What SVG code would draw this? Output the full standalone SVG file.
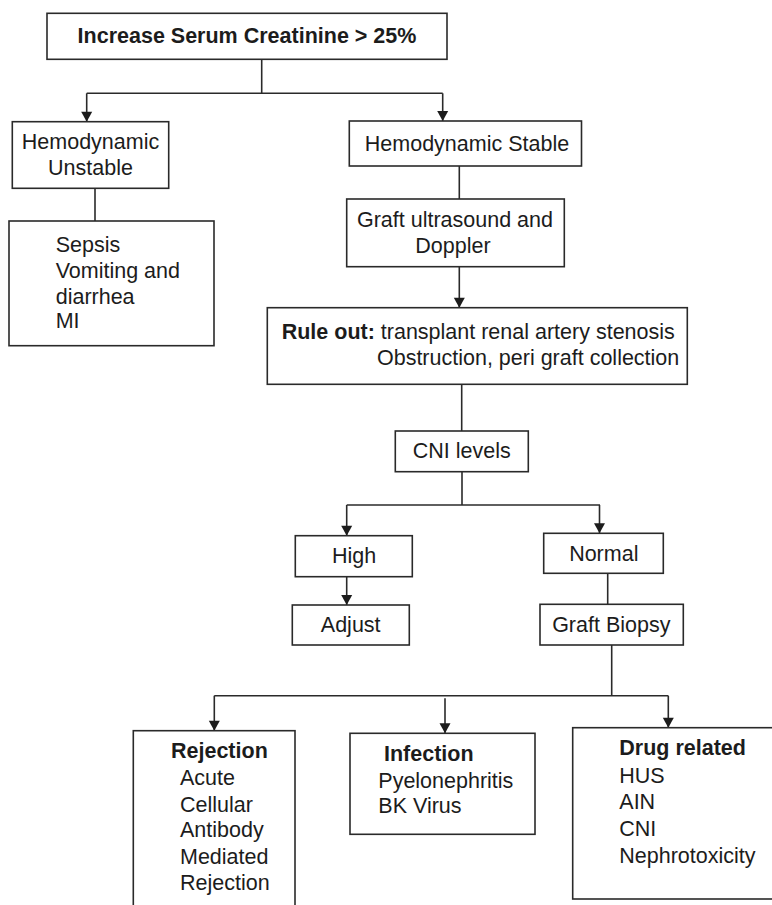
<svg xmlns="http://www.w3.org/2000/svg" width="772" height="905" viewBox="0 0 772 905">
  <style>
    .box { fill: #ffffff; stroke: #2a2a2a; stroke-width: 1.6; }
    .t { font-family: "Liberation Sans", Arial, Helvetica, sans-serif; font-size: 21.5px; fill: #1c1c1c; }
    .b { font-weight: bold; }
    .c { text-anchor: middle; }
    .e { text-anchor: end; }
    .wire { fill: none; stroke: #2a2a2a; stroke-width: 1.6; }
  </style>
  <defs>
    <marker id="arrow" markerUnits="userSpaceOnUse" markerWidth="13" markerHeight="13" viewBox="0 0 13 13" refX="11" refY="6.5" orient="auto">
      <path d="M1,1 L11,6.5 L1,12 Z" fill="#1c1c1c"/>
    </marker>
  </defs>
  <rect width="772" height="905" fill="#ffffff"/>

  <!-- connectors -->
  <g id="connectors">
    <path class="wire" d="M261.7,59.3 V93.3"/>
    <path class="wire" d="M86.7,93.3 H442.7"/>
    <path class="wire" d="M86.7,93.3 V121.7" marker-end="url(#arrow)"/>
    <path class="wire" d="M442.7,93.3 V121" marker-end="url(#arrow)"/>
    <path class="wire" d="M95,188.3 V221"/>
    <path class="wire" d="M459.3,166 V199"/>
    <path class="wire" d="M459.3,266.7 V307.7" marker-end="url(#arrow)"/>
    <path class="wire" d="M461.7,384.3 V431"/>
    <path class="wire" d="M462,471.7 V505"/>
    <path class="wire" d="M346.7,505 H600"/>
    <path class="wire" d="M346.7,505 V535.7" marker-end="url(#arrow)"/>
    <path class="wire" d="M599.5,505 V533.3" marker-end="url(#arrow)"/>
    <path class="wire" d="M346.7,576.7 V605" marker-end="url(#arrow)"/>
    <path class="wire" d="M607.7,573.3 V604.3"/>
    <path class="wire" d="M611.7,645 V695.7"/>
    <path class="wire" d="M214.3,695.7 H668.3"/>
    <path class="wire" d="M214.3,695.7 V730.7" marker-end="url(#arrow)"/>
    <path class="wire" d="M445,698.3 V733.3" marker-end="url(#arrow)"/>
    <path class="wire" d="M668.3,695.7 V727.7" marker-end="url(#arrow)"/>
  </g>

  <g id="increase-creatinine">
    <rect class="box" x="47" y="13.3" width="400" height="46"/>
    <text class="t b c" x="247" y="42.7" style="font-size:21.5px">Increase Serum Creatinine &gt; 25%</text>
  </g>

  <g id="hemodynamic-unstable">
    <rect class="box" x="12.3" y="121.7" width="156.4" height="66.6"/>
    <text class="t c" x="90.5" y="149.3">Hemodynamic</text>
    <text class="t c" x="90.5" y="175">Unstable</text>
  </g>

  <g id="hemodynamic-stable">
    <rect class="box" x="349.3" y="121" width="232.2" height="45"/>
    <text class="t c" x="467" y="150.7">Hemodynamic Stable</text>
  </g>

  <g id="unstable-causes">
    <rect class="box" x="9" y="221" width="205" height="124.7"/>
    <text class="t" x="55.7" y="252.3">Sepsis</text>
    <text class="t" x="55.7" y="278.3">Vomiting and</text>
    <text class="t" x="55.7" y="303.5">diarrhea</text>
    <text class="t" x="55.7" y="328.3">MI</text>
  </g>

  <g id="graft-ultrasound">
    <rect class="box" x="346.7" y="199" width="217.6" height="67.7"/>
    <text class="t c" x="455" y="226.7">Graft ultrasound and</text>
    <text class="t c" x="453" y="252.7">Doppler</text>
  </g>

  <g id="rule-out">
    <rect class="box" x="267.3" y="307.7" width="420" height="76.6"/>
    <text class="t" x="281.7" y="339.3"><tspan class="b">Rule out:</tspan> transplant renal artery stenosis</text>
    <text class="t e" x="679.3" y="365">Obstruction, peri graft collection</text>
  </g>

  <g id="cni-levels">
    <rect class="box" x="395.3" y="431" width="133" height="40.7"/>
    <text class="t c" x="461.7" y="458.3">CNI levels</text>
  </g>

  <g id="high">
    <rect class="box" x="295.3" y="535.7" width="117" height="41"/>
    <text class="t c" x="354" y="562.7">High</text>
  </g>

  <g id="adjust">
    <rect class="box" x="292.3" y="605" width="117" height="40"/>
    <text class="t c" x="350.7" y="631.7">Adjust</text>
  </g>

  <g id="normal">
    <rect class="box" x="543.7" y="533.3" width="119.6" height="40"/>
    <text class="t c" x="603.8" y="561">Normal</text>
  </g>

  <g id="graft-biopsy">
    <rect class="box" x="540" y="604.3" width="143.3" height="40.7"/>
    <text class="t c" x="611.3" y="631.7">Graft Biopsy</text>
  </g>

  <g id="rejection">
    <rect class="box" x="133.3" y="730.7" width="161.7" height="190"/>
    <text class="t b" x="171" y="757.7">Rejection</text>
    <text class="t" x="180" y="785">Acute</text>
    <text class="t" x="180" y="811.7">Cellular</text>
    <text class="t" x="180" y="837.3">Antibody</text>
    <text class="t" x="180" y="864">Mediated</text>
    <text class="t" x="180" y="890">Rejection</text>
  </g>

  <g id="infection">
    <rect class="box" x="350" y="733.3" width="185" height="101"/>
    <text class="t b" x="384" y="761">Infection</text>
    <text class="t" x="378.3" y="788.3">Pyelonephritis</text>
    <text class="t" x="378.3" y="813.3">BK Virus</text>
  </g>

  <g id="drug-related">
    <rect class="box" x="572.7" y="727.7" width="210" height="171.3"/>
    <text class="t b" x="619.3" y="755">Drug related</text>
    <text class="t" x="619.3" y="782.7">HUS</text>
    <text class="t" x="619.3" y="809.3">AIN</text>
    <text class="t" x="619.3" y="836">CNI</text>
    <text class="t" x="619.3" y="862.7">Nephrotoxicity</text>
  </g>
</svg>
